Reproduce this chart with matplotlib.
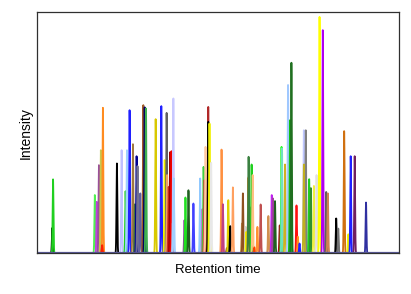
import numpy as np
import matplotlib
matplotlib.use("Agg")
import matplotlib.pyplot as plt

plt.rcParams["font.family"] = ["Liberation Sans", "DejaVu Sans"]

# retention time (min) and peak height (% of full scale) for each compound
rt = [1.27, 1.33, 4.79, 4.96, 5.13, 5.29, 5.46, 5.40, 6.62, 7.01,
      7.34, 7.45, 7.67, 7.95, 8.12, 8.25, 8.33, 8.56, 8.81, 8.92,
      9.03, 9.83, 10.30, 10.58, 10.74, 10.78, 10.91, 11.03, 11.14, 11.24,
      11.30, 11.33, 12.22, 12.30, 12.55, 12.96, 13.52, 13.71, 13.80, 13.88,
      13.96, 14.19, 14.19, 14.29, 14.43, 15.29, 15.40, 15.73, 15.85, 16.01,
      16.23, 16.98, 17.06, 17.29, 17.34, 17.51, 17.53, 17.78, 17.78, 17.87,
      18.01, 18.26, 18.53, 19.17, 19.45, 19.55, 19.72, 20.11, 20.26, 20.30,
      20.55, 20.80, 20.97, 21.08, 21.50, 21.61, 21.75, 22.11, 22.27, 22.11,
      22.55, 22.69, 22.94, 23.16, 23.41, 23.68, 23.96, 24.10, 24.79, 24.96,
      25.45, 25.79, 25.99, 26.32, 27.26]
height = [10.5, 30.6, 24.1, 21.3, 36.5, 42.7, 60.3, 3.3, 37.2, 42.7,
          25.7, 42.7, 59.3, 45.2, 20.3, 40.2, 36.1, 24.8, 61.4, 60.5,
          60.0, 55.6, 61.0, 38.6, 58.2, 32.4, 27.5, 41.9, 42.3, 12.4,
          64.2, 31.0, 13.7, 23.1, 26.1, 20.6, 31.0, 18.3, 35.8, 30.3,
          44.1, 60.7, 54.5, 53.8, 37.5, 43.0, 20.3, 2.1, 22.0, 11.2,
          27.3, 12.3, 24.8, 10.9, 8.8, 31.4, 40.0, 19.2, 36.8, 32.4,
          2.4, 10.9, 20.2, 15.4, 24.1, 22.7, 21.6, 11.5, 44.1, 43.5,
          36.8, 69.8, 55.2, 79.0, 19.8, 6.8, 4.0, 51.0, 51.0, 36.8,
          30.7, 27.0, 27.9, 32.4, 98.0, 92.5, 25.4, 24.8, 14.4, 10.2,
          50.6, 7.8, 40.2, 40.2, 21.0]
colors = ["#000000", "#20d020", "#50f050", "#c040e0", "#9a509a", "#c8c850", "#ff8c20", "#ff2000", "#000000", "#c0c0ff",
          "#20d020", "#a0d0ff", "#2020ff", "#a07840", "#407040", "#000090", "#707090", "#6060a0", "#a05a28", "#000060",
          "#40b050", "#d8c800", "#2020ff", "#f0f000", "#606060", "#f0a060", "#d03020", "#a00000", "#f00000", "#c06060",
          "#c8c8ff", "#a0d0ff", "#9040a0", "#20e020", "#206020", "#4040ff", "#90c8ff", "#c070c0", "#40d040", "#d04030",
          "#ffc8a0", "#b02828", "#000000", "#f0f000", "#e8e8e8", "#ff9040", "#c04080", "#804020", "#e0d000", "#000000",
          "#ffa060", "#c09050", "#905020", "#d0d0d0", "#f0f000", "#f08030", "#3a8040", "#b01010", "#20d020", "#ffc080",
          "#ff4000", "#ff9030", "#c05050", "#d09050", "#c020f0", "#a040a0", "#206020", "#a01010", "#20ff20", "#70e0c0",
          "#d0b020", "#a0c8ff", "#10c010", "#207020", "#ff1010", "#ff9020", "#2020ff", "#c0c8ff", "#808080", "#c0b020",
          "#20d020", "#309030", "#f0f040", "#e0e0e0", "#ffff00", "#b000f0", "#606060", "#d08050", "#000000", "#707070",
          "#d07010", "#f0f000", "#2020ff", "#702060", "#3030a0"]

t = np.linspace(0, 30, 9000)

fig = plt.figure(figsize=(4.11, 2.94), dpi=100)
ax = fig.add_axes([0.090, 0.139, 0.881, 0.82])

for r, h, c in zip(rt, height, colors):
    y = h * np.exp(-0.5 * ((t - r) / 0.035) ** 2)
    m = np.abs(t - r) < 0.25
    ax.plot(t[m], y[m], color=c, lw=1.3)

ax.axhline(0, color="#5a5a9a", lw=1.6)

ax.set_xlim(0, 30)
ax.set_ylim(0, 100)
ax.set_xticks([])
ax.set_yticks([])
for s in ax.spines.values():
    s.set_color("#303030")
    s.set_linewidth(0.9)
ax.set_xlabel("Retention time", fontsize=9.5)
ax.set_ylabel("Intensity", fontsize=10)
ax.xaxis.set_label_coords(0.5, -0.047)
ax.yaxis.set_label_coords(-0.0125, 0.5)

fig.savefig("out.png", dpi=100)
